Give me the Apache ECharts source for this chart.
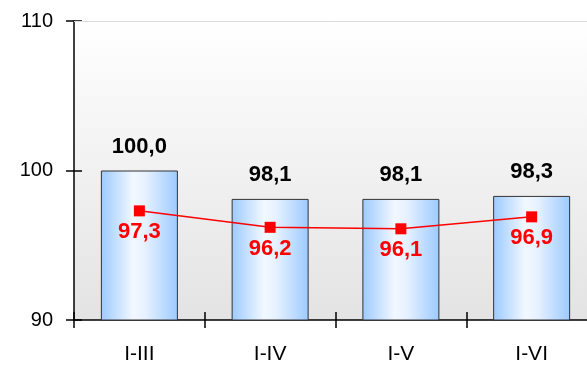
<!DOCTYPE html>
<html>
<head>
<meta charset="utf-8">
<script src="https://cdn.jsdelivr.net/npm/echarts@6/dist/echarts.min.js"></script>
<style>
  html, body { margin: 0; padding: 0; background: #ffffff; overflow: hidden; }
  /* canvas is wider than the window so the plot area runs past the right edge */
  #chart { width: 597px; height: 368px; }
</style>
</head>
<body>
<div id="chart"></div>
<script>
// Period categories and the two indices plotted for each
const categories = ['I-III', 'I-IV', 'I-V', 'I-VI'];
const barValues = [100.0, 98.1, 98.1, 98.3];
const lineValues = [97.3, 96.2, 96.1, 96.9];
const yTicks = [90, 100, 110];

const fmt = v => v.toFixed(1).replace('.', ',');
const FONT = '"Liberation Sans", Arial, sans-serif';

const chart = echarts.init(document.getElementById('chart'), null, { renderer: 'canvas' });

const tickStyle = { color: '#000', width: 1.5 };

chart.setOption({
  animation: false,
  backgroundColor: '#ffffff',
  grid: {
    left: 74, right: 0, top: 21, bottom: 48,
    show: true,
    borderWidth: 0,
    backgroundColor: {
      type: 'linear', x: 0, y: 0, x2: 0, y2: 1,
      colorStops: [
        { offset: 0, color: '#ffffff' },
        { offset: 1, color: '#e3e3e3' }
      ]
    }
  },
  xAxis: [
    {
      type: 'category',
      data: categories,
      axisLine: { lineStyle: { color: '#000', width: 1.5 } },
      axisTick: { show: true, length: 8, lineStyle: tickStyle },
      axisLabel: { color: '#000', fontSize: 21, fontFamily: FONT, margin: 24 }
    },
    {
      type: 'category',
      data: categories,
      position: 'bottom',
      axisLine: { show: false },
      axisTick: { show: true, inside: true, length: 8, lineStyle: tickStyle },
      axisLabel: { show: false }
    }
  ],
  yAxis: [
    {
      type: 'value',
      min: yTicks[0], max: yTicks[yTicks.length - 1], interval: 10,
      axisLine: { show: true, lineStyle: { color: '#000', width: 1.5 } },
      axisTick: { show: true, length: 8, lineStyle: tickStyle },
      axisLabel: { color: '#000', fontSize: 20, fontFamily: FONT, margin: 21 },
      splitLine: { show: false }
    },
    {
      type: 'value',
      position: 'left',
      min: yTicks[0], max: yTicks[yTicks.length - 1], interval: 10,
      axisLine: { show: false },
      axisTick: { show: true, inside: true, length: 8, lineStyle: tickStyle },
      axisLabel: { show: false },
      splitLine: { show: false }
    }
  ],
  series: [
    {
      type: 'bar',
      data: barValues,
      barWidth: 77,
      itemStyle: {
        color: {
          type: 'linear', x: 0, y: 0, x2: 1, y2: 0,
          colorStops: [
            { offset: 0, color: '#9ccaff' },
            { offset: 0.42, color: '#f2f8ff' },
            { offset: 0.58, color: '#e6f1ff' },
            { offset: 1, color: '#9ccaff' }
          ]
        },
        borderColor: '#333333',
        borderWidth: 1
      },
      label: {
        show: true,
        position: 'top',
        distance: 13,
        formatter: p => fmt(p.value),
        color: '#000',
        fontWeight: 'bold',
        fontSize: 22,
        fontFamily: FONT
      },
      z: 2
    },
    {
      type: 'line',
      data: lineValues,
      symbol: 'rect',
      symbolSize: 11,
      itemStyle: { color: '#ff0000' },
      lineStyle: { color: '#ff0000', width: 1.5 },
      label: {
        show: true,
        position: 'bottom',
        distance: 5,
        formatter: p => fmt(p.value),
        color: '#ff0000',
        fontWeight: 'bold',
        fontSize: 22,
        fontFamily: FONT
      },
      markLine: {
        silent: true,
        symbol: 'none',
        label: { show: false },
        lineStyle: { color: '#dddddd', width: 1, type: 'solid' },
        data: [{ yAxis: 110 }]
      },
      z: 3
    }
  ]
});
</script>
</body>
</html>
